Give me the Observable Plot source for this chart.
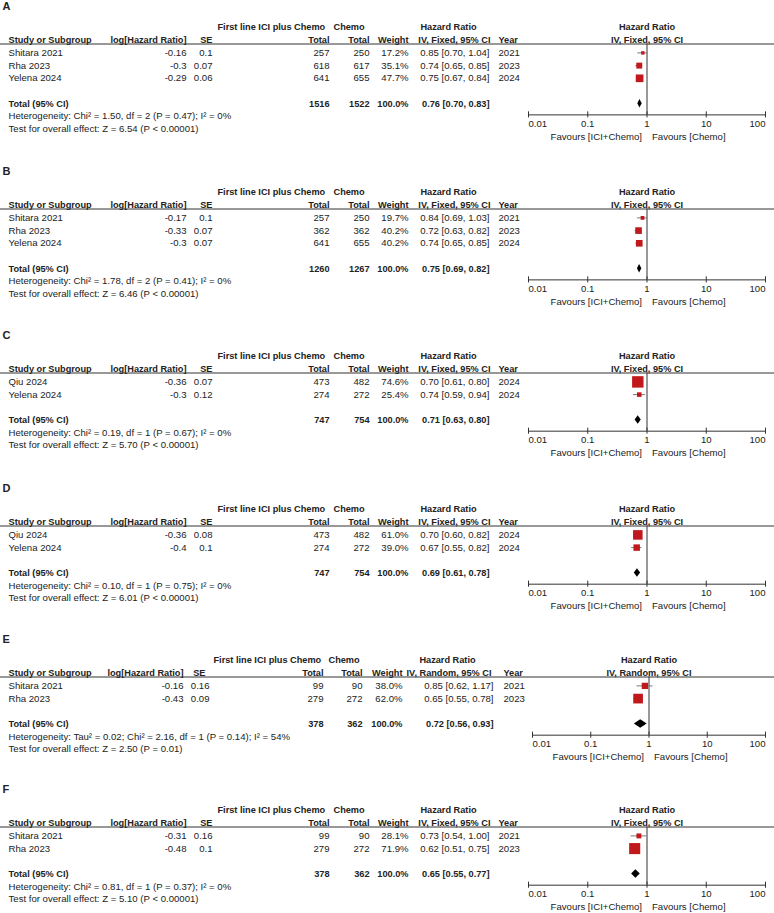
<!DOCTYPE html>
<html>
<head>
<meta charset="utf-8">
<script src="https://cdn.jsdelivr.net/npm/d3@7"></script>
<script src="https://cdn.jsdelivr.net/npm/@observablehq/plot@0.6"></script>
<style>
  html, body { margin: 0; padding: 0; background: white; }
  #chart svg { display: block; }
</style>
</head>
<body>
<div id="chart"></div>
<script>
// ---------- DATA ----------
const panelIds = ["A", "B", "C", "D", "E", "F"];
const methods = ["Fixed", "Fixed", "Fixed", "Fixed", "Random", "Fixed"];
const studies = [
  ["Shitara 2021", "Rha 2023", "Yelena 2024"],
  ["Shitara 2021", "Rha 2023", "Yelena 2024"],
  ["Qiu 2024", "Yelena 2024"],
  ["Qiu 2024", "Yelena 2024"],
  ["Shitara 2021", "Rha 2023"],
  ["Shitara 2021", "Rha 2023"]
];
const logHR = [
  [-0.16, -0.3, -0.29],
  [-0.17, -0.33, -0.3],
  [-0.36, -0.3],
  [-0.36, -0.4],
  [-0.16, -0.43],
  [-0.31, -0.48]
];
const stdErr = [
  [0.1, 0.07, 0.06],
  [0.1, 0.07, 0.07],
  [0.07, 0.12],
  [0.08, 0.1],
  [0.16, 0.09],
  [0.16, 0.1]
];
const totalICI = [
  [257, 618, 641],
  [257, 362, 641],
  [473, 274],
  [473, 274],
  [99, 279],
  [99, 279]
];
const totalChemo = [
  [250, 617, 655],
  [250, 362, 655],
  [482, 272],
  [482, 272],
  [90, 272],
  [90, 272]
];
const weights = [
  [17.2, 35.1, 47.7],
  [19.7, 40.2, 40.2],
  [74.6, 25.4],
  [61.0, 39.0],
  [38.0, 62.0],
  [28.1, 71.9]
];
const hr = [
  [0.85, 0.74, 0.75],
  [0.84, 0.72, 0.74],
  [0.70, 0.74],
  [0.70, 0.67],
  [0.85, 0.65],
  [0.73, 0.62]
];
const hrLow = [
  [0.70, 0.65, 0.67],
  [0.69, 0.63, 0.65],
  [0.61, 0.59],
  [0.60, 0.55],
  [0.62, 0.55],
  [0.54, 0.51]
];
const hrHigh = [
  [1.04, 0.85, 0.84],
  [1.03, 0.82, 0.85],
  [0.80, 0.94],
  [0.82, 0.82],
  [1.17, 0.78],
  [1.00, 0.75]
];
const years = [
  [2021, 2023, 2024],
  [2021, 2023, 2024],
  [2024, 2024],
  [2024, 2024],
  [2021, 2023],
  [2021, 2023]
];
const pooledICI = [1516, 1260, 747, 747, 378, 378];
const pooledChemo = [1522, 1267, 754, 754, 362, 362];
const pooledHR = [0.76, 0.75, 0.71, 0.69, 0.72, 0.65];
const pooledLow = [0.70, 0.69, 0.63, 0.61, 0.56, 0.55];
const pooledHigh = [0.83, 0.82, 0.80, 0.78, 0.93, 0.77];
const heterogeneity = [
  "Heterogeneity: Chi² = 1.50, df = 2 (P = 0.47); I² = 0%",
  "Heterogeneity: Chi² = 1.78, df = 2 (P = 0.41); I² = 0%",
  "Heterogeneity: Chi² = 0.19, df = 1 (P = 0.67); I² = 0%",
  "Heterogeneity: Chi² = 0.10, df = 1 (P = 0.75); I² = 0%",
  "Heterogeneity: Tau² = 0.02; Chi² = 2.16, df = 1 (P = 0.14); I² = 54%",
  "Heterogeneity: Chi² = 0.81, df = 1 (P = 0.37); I² = 0%"
];
const overallTest = [
  "Test for overall effect: Z = 6.54 (P < 0.00001)",
  "Test for overall effect: Z = 6.46 (P < 0.00001)",
  "Test for overall effect: Z = 5.70 (P < 0.00001)",
  "Test for overall effect: Z = 6.01 (P < 0.00001)",
  "Test for overall effect: Z = 2.50 (P = 0.01)",
  "Test for overall effect: Z = 5.10 (P < 0.00001)"
];
const tickValues = [0.01, 0.1, 1, 10, 100];
const tickLabels = ["0.01", "0.1", "1", "10", "100"];
const favoursLeft = "Favours [ICI+Chemo]";
const favoursRight = "Favours [Chemo]";

// ---------- LAYOUT / STYLE ----------
const layout = {
  width: 774,
  panelHeights: [165, 164, 153, 151, 150, 130],
  row0: 27,
  rowStep: 12.7,
  forestRange: [528, 765],
  cols: { study: 8, logHR: 186, se: 212, seHead: 212, n1: 329, n2: 369, weight: 408, ci: 489, year: 498,
          grp1: 217, grp2: 333, hrHead: 448, ciHead: 490, label: 2 },
  // panel E was laid out slightly differently in the original figure
  overrides: {
    4: {
      cols: { logHR: 183, se: 209, seHead: 205, n1: 323, n2: 362, weight: 402, ci: 493, year: 503,
              grp1: 213, grp2: 328, hrHead: 447, ciHead: 491 },
      forestRange: [532, 765]
    }
  },
  labelRow: -1.65,
  underlineRow: 1.3,
  axisOffset: 0.88,
  tickLabelOffset: 0.7,
  favoursOffset: 1.72,
  tickHalf: 0.24,
  diamondHalf: 0.34,
  favoursGap: 5
};
const style = {
  text: "#222",
  square: "#c0181b",
  whisker: "#7a7a7a",
  axis: "#333",
  font: "'Liberation Sans', Arial, sans-serif",
  size: 9.6,
  boldSize: 9.2
};

const fmt2 = v => v.toFixed(2);
const ciText = (e, l, h) => `${fmt2(e)} [${fmt2(l)}, ${fmt2(h)}]`;

function panel(i) {
  const ov = layout.overrides[i] || {};
  const C = {...layout.cols, ...(ov.cols || {})};
  const forestRange = ov.forestRange || layout.forestRange;
  const n = studies[i].length;
  const rows = studies[i].map((s, j) => ({
    row: 2 + j, study: s, logHR: String(logHR[i][j]), se: String(stdErr[i][j]),
    n1: String(totalICI[i][j]), n2: String(totalChemo[i][j]),
    weight: weights[i][j].toFixed(1) + "%", w: weights[i][j],
    est: hr[i][j], lo: hrLow[i][j], hi: hrHigh[i][j],
    ci: ciText(hr[i][j], hrLow[i][j], hrHigh[i][j]), year: String(years[i][j])
  }));
  const totalRow = n + 3;
  const total = [{
    row: totalRow, study: "Total (95% CI)", n1: String(pooledICI[i]), n2: String(pooledChemo[i]),
    weight: "100.0%", ci: ciText(pooledHR[i], pooledLow[i], pooledHigh[i])
  }];
  const notes = [
    {row: totalRow + 1, text: heterogeneity[i]},
    {row: totalRow + 2, text: overallTest[i]}
  ];
  const axisRow = totalRow + layout.axisOffset;
  const diamond = [
    {x: pooledLow[i], y1: totalRow, y2: totalRow},
    {x: pooledHR[i], y1: totalRow - layout.diamondHalf, y2: totalRow + layout.diamondHalf},
    {x: pooledHigh[i], y1: totalRow, y2: totalRow}
  ];
  const method = `IV, ${methods[i]}, 95% CI`;
  const colText = (data, key, text, anchor, extra = {}) =>
    Plot.text(data, {y: "row", text, frameAnchor: "left", dx: C[key], textAnchor: anchor,
      fill: style.text, fontSize: style.size, ...extra});
  const bold = {fontWeight: "bold", fontSize: style.boldSize};
  const head0 = [{row: 0}];
  const head1 = [{row: 1}];
  const lastTick = tickValues.length - 1;
  const ticks = tickValues.map((v, k) => ({x: v, label: tickLabels[k], k}));

  return Plot.plot({
    width: layout.width,
    height: layout.panelHeights[i],
    margin: 0,
    style: {fontFamily: style.font, fontSize: style.size + "px", color: style.text, background: "white"},
    x: {type: "log", domain: [tickValues[0], tickValues[lastTick]], range: forestRange, axis: null},
    y: {type: "linear", domain: [0, 1], range: [layout.row0, layout.row0 + layout.rowStep], axis: null},
    r: {type: "linear", domain: [0, 100], range: [0.56, 8.47]},
    marks: [
      // panel letter
      colText([{row: layout.labelRow}], "label", () => panelIds[i], "start", {fontWeight: "bold", fontSize: 11}),
      // header row 0
      colText(head0, "grp1", () => "First line ICI plus Chemo", "start", bold),
      colText(head0, "grp2", () => "Chemo", "start", bold),
      colText(head0, "hrHead", () => "Hazard Ratio", "middle", bold),
      Plot.text(head0, {x: () => 1, y: "row", text: () => "Hazard Ratio", textAnchor: "middle", fill: style.text, ...bold}),
      // header row 1
      colText(head1, "study", () => "Study or Subgroup", "start", bold),
      colText(head1, "logHR", () => "log[Hazard Ratio]", "end", bold),
      colText(head1, "seHead", () => "SE", "end", bold),
      colText(head1, "n1", () => "Total", "end", bold),
      colText(head1, "n2", () => "Total", "end", bold),
      colText(head1, "weight", () => "Weight", "end", bold),
      colText(head1, "ciHead", () => method, "end", bold),
      colText(head1, "year", () => "Year", "start", bold),
      Plot.text(head1, {x: () => 1, y: "row", text: () => method, textAnchor: "middle", fill: style.text, ...bold}),
      // header underline (full width)
      Plot.ruleY([layout.underlineRow], {stroke: style.axis, strokeWidth: 1}),
      // study rows
      colText(rows, "study", "study", "start"),
      colText(rows, "logHR", "logHR", "end"),
      colText(rows, "se", "se", "end"),
      colText(rows, "n1", "n1", "end"),
      colText(rows, "n2", "n2", "end"),
      colText(rows, "weight", "weight", "end"),
      colText(rows, "ci", "ci", "end"),
      colText(rows, "year", "year", "start"),
      // total row
      colText(total, "study", "study", "start", bold),
      colText(total, "n1", "n1", "end", bold),
      colText(total, "n2", "n2", "end", bold),
      colText(total, "weight", "weight", "end", bold),
      colText(total, "ci", "ci", "end", bold),
      // notes
      colText(notes, "study", "text", "start"),
      // line of no effect
      Plot.ruleX([1], {y1: layout.underlineRow, y2: axisRow, stroke: style.axis, strokeWidth: 1}),
      // whiskers and squares
      Plot.ruleY(rows, {y: "row", x1: "lo", x2: "hi", stroke: style.whisker, strokeWidth: 1}),
      Plot.dot(rows, {x: "est", y: "row", r: "w", symbol: "square", fill: style.square, stroke: "none"}),
      // pooled diamond
      Plot.areaY(diamond, {x: "x", y1: "y1", y2: "y2", fill: "black"}),
      // axis
      Plot.ruleY([{y: axisRow}], {y: "y", x1: () => tickValues[0], x2: () => tickValues[lastTick], stroke: style.axis, strokeWidth: 1}),
      Plot.ruleX(ticks, {x: "x", y1: () => axisRow - layout.tickHalf, y2: () => axisRow + layout.tickHalf, stroke: style.axis, strokeWidth: 1}),
      Plot.text(ticks.filter(t => t.k === 0), {x: "x", y: () => axisRow + layout.tickLabelOffset, text: "label", textAnchor: "start", fill: style.text}),
      Plot.text(ticks.filter(t => t.k > 0 && t.k < lastTick), {x: "x", y: () => axisRow + layout.tickLabelOffset, text: "label", textAnchor: "middle", fill: style.text}),
      Plot.text(ticks.filter(t => t.k === lastTick), {x: "x", y: () => axisRow + layout.tickLabelOffset, text: "label", textAnchor: "end", fill: style.text}),
      Plot.text([1], {x: d => d, y: () => axisRow + layout.favoursOffset, text: () => favoursLeft, textAnchor: "end", dx: -layout.favoursGap, fill: style.text}),
      Plot.text([1], {x: d => d, y: () => axisRow + layout.favoursOffset, text: () => favoursRight, textAnchor: "start", dx: layout.favoursGap, fill: style.text})
    ]
  });
}

const root = document.getElementById("chart");
panelIds.forEach((_, i) => root.appendChild(panel(i)));
</script>
</body>
</html>
